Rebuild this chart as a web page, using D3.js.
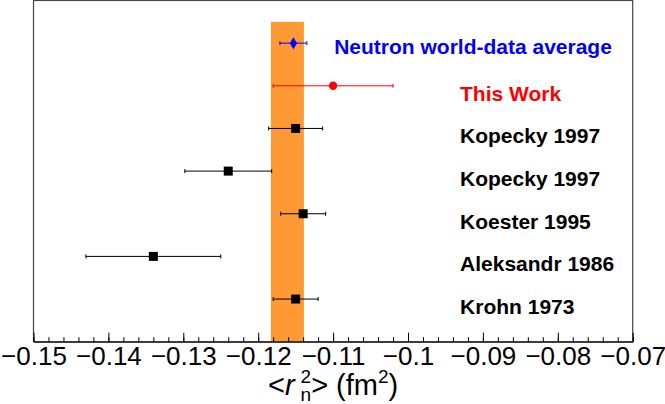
<!DOCTYPE html>
<html>
<head>
<meta charset="utf-8">
<script src="https://cdn.jsdelivr.net/npm/d3@7"></script>
<style>
  body { margin: 0; background: #fff; }
  text { font-family: "Liberation Sans", Arial, Helvetica, sans-serif; }
</style>
</head>
<body>
<svg id="chart"></svg>
<script>
// measurements, top row first
const labels = ['Neutron world-data average', 'This Work', 'Kopecky 1997', 'Kopecky 1997',
  'Koester 1995', 'Aleksandr 1986', 'Krohn 1973'];
const rowPos = [7, 6, 5, 4, 3, 2, 1];
const values = [-0.1153, -0.1100, -0.1150, -0.1240, -0.1140, -0.1340, -0.1150];
const errors = [0.0018, 0.0080, 0.0036, 0.0058, 0.0030, 0.0090, 0.0030];
const kinds = ['diamond', 'circle', 'square', 'square', 'square', 'square', 'square'];
const colors = ['#0000ff', '#ff0000', '#000', '#000', '#000', '#000', '#000'];

// orange band
const bandLow = -0.1183;
const bandHigh = -0.1139;
const bandTop = 7.5;

const xTicks = [-0.15, -0.14, -0.13, -0.12, -0.11, -0.1, -0.09, -0.08, -0.07];

const config = {
  width: 665,
  height: 404,
  margin: { top: 0.5, right: 32.3, bottom: 62.3, left: 33.5 },
};

const svg = d3.select('#chart')
  .attr('width', config.width)
  .attr('height', config.height);

const innerW = config.width - config.margin.left - config.margin.right;
const innerH = config.height - config.margin.top - config.margin.bottom;

const xScale = d3.scaleLinear().domain([-0.15, -0.07]).range([0, innerW]);
const yScale = d3.scaleLinear().domain([0, 8]).range([innerH, 0]);

const chart = svg.append('g')
  .attr('transform', `translate(${config.margin.left},${config.margin.top})`);

// band
chart.append('rect')
  .attr('x', xScale(bandLow))
  .attr('width', xScale(bandHigh) - xScale(bandLow))
  .attr('y', yScale(bandTop))
  .attr('height', yScale(0) - yScale(bandTop))
  .attr('fill', '#ff9933');

// frame
chart.append('rect')
  .attr('width', innerW)
  .attr('height', innerH)
  .attr('fill', 'none')
  .attr('stroke', '#444')
  .attr('stroke-width', 1.2);

// axis: major + minor ticks pointing up
const minorTicks = d3.range(0, 41).map((i) => -0.15 + i * 0.002);
chart.append('g')
  .attr('transform', `translate(0,${innerH})`)
  .call(d3.axisBottom(xScale).tickValues(minorTicks).tickSize(-4.5).tickSizeOuter(0).tickFormat(''))
  .call((g) => g.select('.domain').remove())
  .call((g) => g.selectAll('line').attr('stroke', '#000'));

const xAxisG = chart.append('g')
  .attr('transform', `translate(0,${innerH})`)
  .call(d3.axisBottom(xScale)
    .tickValues(xTicks)
    .tickSize(-9)
    .tickSizeOuter(0)
    .tickPadding(5)
    .tickFormat((d) => String(d).replace('-', '\u2212')));
xAxisG.select('.domain').attr('stroke', '#000');
xAxisG.selectAll('line').attr('stroke', '#000');
xAxisG.selectAll('text')
  .attr('font-size', 26)
  .attr('fill', '#000')
  .style('font-family', '"Liberation Sans", Arial, Helvetica, sans-serif');

// error bars
const rows = labels.map((l, i) => ({
  label: l, y: rowPos[i], v: values[i], e: errors[i], kind: kinds[i], color: colors[i],
}));

const bars = chart.append('g').selectAll('g')
  .data(rows)
  .join('g')
  .attr('stroke', (d) => d.color)
  .attr('stroke-width', 1);

bars.append('line')
  .attr('x1', (d) => xScale(d.v - d.e))
  .attr('x2', (d) => xScale(d.v + d.e))
  .attr('y1', (d) => yScale(d.y))
  .attr('y2', (d) => yScale(d.y));
bars.append('line')
  .attr('x1', (d) => xScale(d.v - d.e))
  .attr('x2', (d) => xScale(d.v - d.e))
  .attr('y1', (d) => yScale(d.y) - 2)
  .attr('y2', (d) => yScale(d.y) + 2);
bars.append('line')
  .attr('x1', (d) => xScale(d.v + d.e))
  .attr('x2', (d) => xScale(d.v + d.e))
  .attr('y1', (d) => yScale(d.y) - 2)
  .attr('y2', (d) => yScale(d.y) + 2);

// markers
const symbolPath = {
  square: 'M-4.5,-4.5H4.5V4.5H-4.5Z',
  diamond: 'M0,-6L3.6,0L0,6L-3.6,0Z',
};
chart.append('g').selectAll('.mark')
  .data(rows)
  .join((enter) => enter.append('g'))
  .attr('transform', (d) => `translate(${xScale(d.v)},${yScale(d.y)})`)
  .each(function (d) {
    const g = d3.select(this);
    if (d.kind === 'circle') {
      g.append('circle').attr('r', 4.2).attr('fill', d.color);
    } else {
      g.append('path').attr('d', symbolPath[d.kind]).attr('fill', d.color);
    }
  });

// labels
chart.append('g').selectAll('text')
  .data(rows)
  .join('text')
  .attr('x', (d, i) => (i === 0 ? xScale(-0.10986) : xScale(-0.09305)))
  .attr('y', (d, i) => yScale(d.y) + (i === 0 ? 10.6 : 15))
  .attr('font-size', 21)
  .attr('font-weight', 'bold')
  .attr('fill', (d) => d.color)
  .text((d) => d.label);

// axis title: <r_n^2> (fm^2)
const title = svg.append('g');
const baseY = 395;
let cx = 0;
function piece(txt, opts = {}) {
  const t = title.append('text')
    .attr('x', cx + (opts.dx || 0))
    .attr('y', baseY + (opts.dy || 0))
    .attr('font-size', opts.size || 29)
    .attr('font-style', opts.italic ? 'italic' : 'normal')
    .text(txt);
  return t.node().getComputedTextLength();
}
cx += piece('<');
cx += piece('r', { italic: true });
cx += 6;
const w2 = piece('2', { size: 19, dy: -12 });
const wn = piece('n', { size: 19, dy: 6 });
cx += Math.max(w2, wn);
cx += piece('> (fm');
cx += piece('2', { size: 19, dy: -12 });
cx += piece(')');
const center = config.margin.left + innerW / 2;
title.attr('transform', `translate(${center - cx / 2},0)`);
</script>
</body>
</html>
